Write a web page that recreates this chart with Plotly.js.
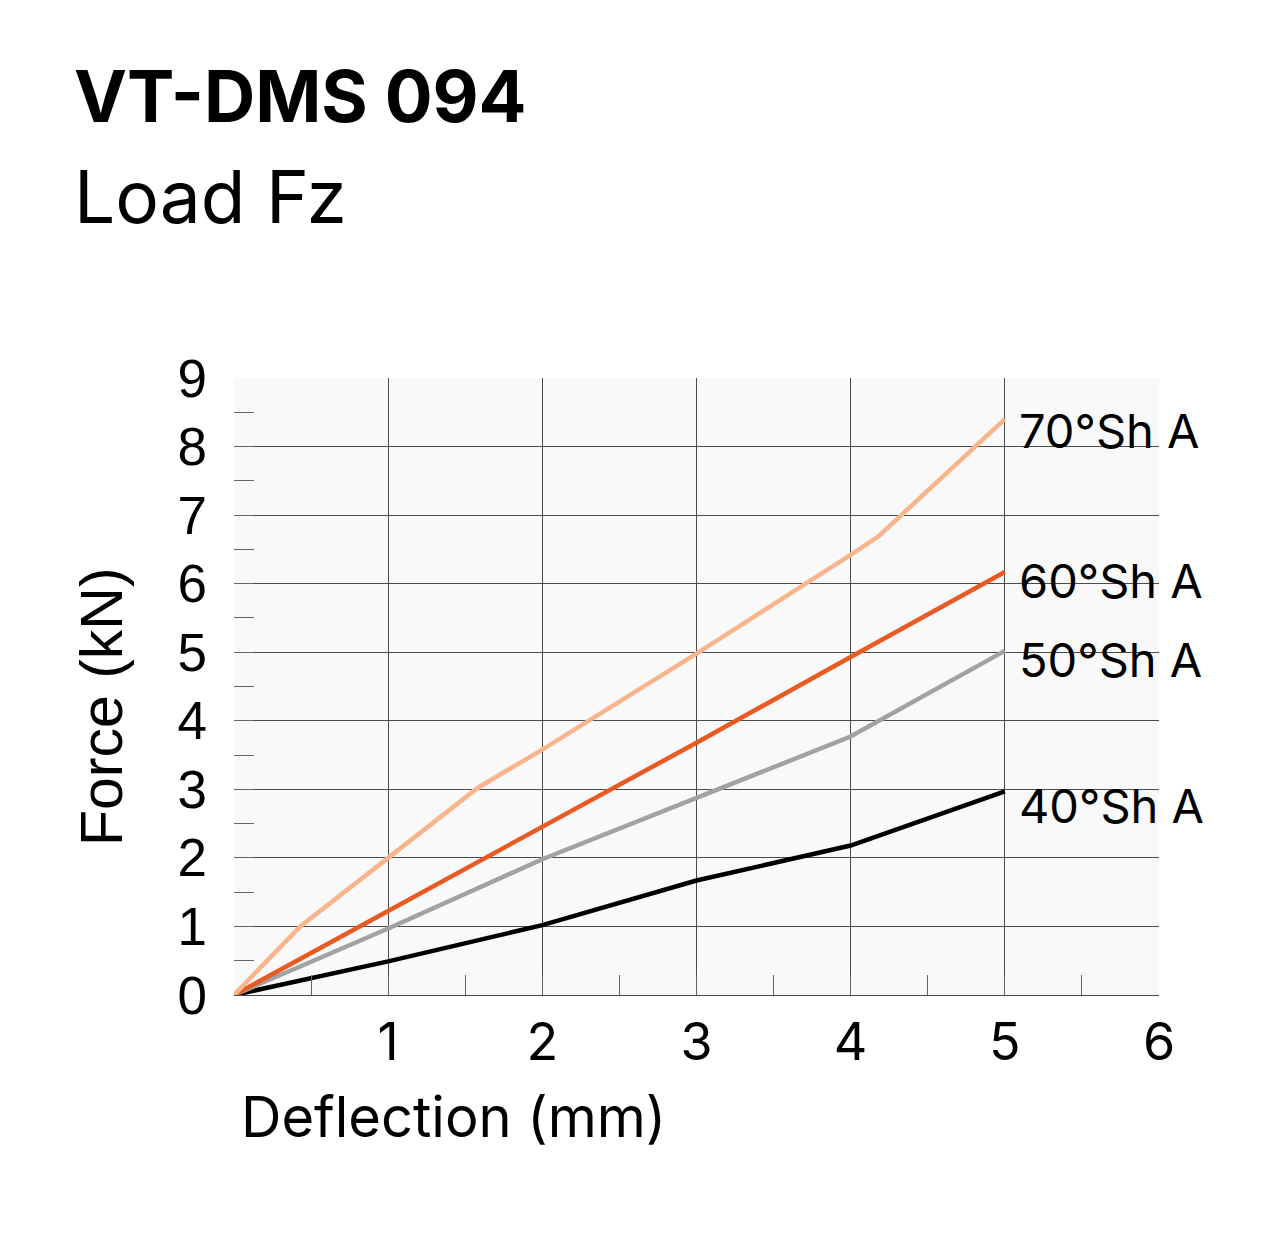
<!DOCTYPE html>
<html>
<head>
<meta charset="utf-8">
<script src="https://cdn.plot.ly/plotly-3.0.1.min.js"></script>
<style>
  html, body { margin: 0; padding: 0; background: #ffffff; }
  #chart { width: 1280px; height: 1233px; }
</style>
</head>
<body>
<div id="chart"></div>
<script>
// Deflection (mm) / force (kN)
const x70 = [0, 0.43, 1, 1.58, 2, 3, 4, 4.18, 5];
const y70 = [0, 1.0, 2.0, 3.02, 3.58, 4.98, 6.42, 6.69, 8.4];

const x60 = [0, 1, 2, 3, 4, 5];
const y60 = [0, 1.23, 2.46, 3.68, 4.93, 6.17];

const x50 = [0, 1, 2, 3, 4, 5];
const y50 = [0, 0.97, 1.98, 2.87, 3.77, 5.02];

const x40 = [0, 1, 2, 3, 4, 5];
const y40 = [0, 0.49, 1.02, 1.67, 2.18, 2.97];

const seriesNames = ['70°Sh A', '60°Sh A', '50°Sh A', '40°Sh A'];
const labelY = [8.24, 6.04, 4.89, 2.77];

const xTickVals = [0, 1, 2, 3, 4, 5, 6];
const xTickText = ['', '1', '2', '3', '4', '5', '6'];
const yTickVals = [0, 1, 2, 3, 4, 5, 6, 7, 8, 9];

const FONT = 'Inter, "Noto Sans", Arial, sans-serif';
const ARIAL = '"Liberation Sans", Arial, sans-serif';
const colors = ['#f8b48b', '#e95a22', '#a2a2a2', '#000000'];
const xs = [x70, x60, x50, x40];
const ys = [y70, y60, y50, y40];

const traces = seriesNames.map((name, i) => ({
  x: xs[i],
  y: ys[i],
  name: name,
  type: 'scatter',
  mode: 'lines',
  line: { color: colors[i], width: 4.5 },
  hoverinfo: 'skip'
})).reverse();

// paper coords from pixels
function px(v) { return (v - 234) / (1159 - 234); }
function py(v) { return (995 - v) / (995 - 378); }

const annotations = seriesNames.map((name, i) => ({
  x: 5, y: labelY[i], xref: 'x', yref: 'y',
  text: name, showarrow: false,
  xanchor: 'left', yanchor: 'middle', xshift: 12,
  font: { family: FONT, size: 47, color: '#000' }
}));

annotations.push({
  x: px(102), y: py(707), xref: 'paper', yref: 'paper',
  text: 'Force (kN)', showarrow: false, textangle: -90,
  xanchor: 'center', yanchor: 'middle',
  font: { family: ARIAL, size: 59, color: '#000' }
});

annotations.push({
  x: px(239), y: py(1117), xref: 'paper', yref: 'paper',
  text: 'Deflection (mm)', showarrow: false,
  xanchor: 'left', yanchor: 'middle',
  font: { family: FONT, size: 56, color: '#000' }
});

annotations.push({
  x: px(72), y: py(96), xref: 'paper', yref: 'paper',
  text: '<b>VT-DMS 094</b>', showarrow: false,
  xanchor: 'left', yanchor: 'middle',
  font: { family: FONT, size: 71, color: '#000' }
});
annotations.push({
  x: px(72), y: py(196), xref: 'paper', yref: 'paper',
  text: 'Load Fz', showarrow: false,
  xanchor: 'left', yanchor: 'middle',
  font: { family: FONT, size: 73, color: '#000' }
});

const layout = {
  width: 1280,
  height: 1233,
  margin: { l: 234, r: 121, t: 378, b: 238 },
  paper_bgcolor: '#ffffff',
  plot_bgcolor: '#f9f9f9',
  showlegend: false,
  font: { family: FONT, color: '#000' },
  xaxis: {
    range: [0, 6],
    tickvals: xTickVals,
    ticktext: xTickText,
    showgrid: true,
    gridcolor: '#4a4a4a',
    gridwidth: 1,
    zeroline: false,
    showline: true,
    linecolor: '#4a4a4a',
    linewidth: 1,
    mirror: false,
    ticks: 'inside',
    ticklen: 20,
    tickcolor: '#666',
    ticklabelstandoff: 2,
    tickfont: { family: FONT, size: 52, color: '#000' },
    minor: { dtick: 0.5, ticks: 'inside', ticklen: 20, tickcolor: '#666', showgrid: false },
    fixedrange: true
  },
  yaxis: {
    range: [0, 9],
    tickvals: yTickVals,
    showgrid: true,
    gridcolor: '#4a4a4a',
    gridwidth: 1,
    zeroline: false,
    showline: false,
    ticks: 'inside',
    ticklen: 20,
    tickcolor: '#666',
    ticklabelstandoff: 26,
    tickfont: { family: ARIAL, size: 53, color: '#000' },
    minor: { dtick: 0.5, ticks: 'inside', ticklen: 20, tickcolor: '#666', showgrid: false },
    fixedrange: true
  },
  annotations: annotations
};

Plotly.newPlot('chart', traces, layout, { displayModeBar: false, staticPlot: true });
</script>
</body>
</html>
